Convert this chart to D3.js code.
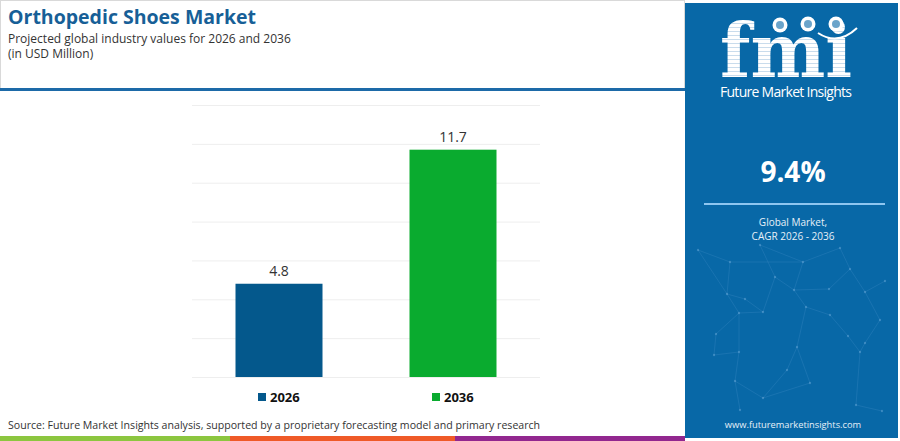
<!DOCTYPE html>
<html lang="en">
<head>
<meta charset="UTF-8">
<title>Orthopedic Shoes Market</title>
<script src="https://d3js.org/d3.v7.min.js"></script>
<style>
  body { margin: 0; background: #ffffff; }
  svg { display: block; font-family: "Open Sans", "Noto Sans", sans-serif; }
</style>
</head>
<body>
<svg></svg>
<script>
// chart data
const years = ["2026", "2036"];
const values = [4.8, 11.7];
const barColors = ["#04588c", "#0aab2f"];
const tickValues = [0, 2, 4, 6, 8, 10, 12, 14];
const cagr = "9.4%";

const width = 900, height = 441;
const svg = d3.select("svg").attr("width", width).attr("height", height);

svg.append("rect").attr("width", width).attr("height", height).attr("fill", "#fff");

// header frame
svg.append("rect").attr("x", 0.5).attr("y", 0.5).attr("width", 684).attr("height", 90)
    .attr("fill", "none").attr("stroke", "#d9d9d9");
svg.append("rect").attr("x", 0).attr("y", 88).attr("width", 685).attr("height", 3).attr("fill", "#1d6aa8");

svg.append("text").attr("x", 8).attr("y", 23.5)
    .attr("font-size", 19.5).attr("font-weight", 700).attr("fill", "#175f97")
    .text("Orthopedic Shoes Market");
svg.append("text").attr("x", 8).attr("y", 42.5)
    .attr("font-size", 12).attr("fill", "#333")
    .text("Projected global industry values for 2026 and 2036");
svg.append("text").attr("x", 8).attr("y", 58)
    .attr("font-size", 12).attr("fill", "#333")
    .text("(in USD Million)");

// scales
const x = d3.scaleBand().domain(years).range([192, 540]).paddingInner(0.5).paddingOuter(0.25);
const y = d3.scaleLinear().domain([0, 14]).range([377, 105]);

// gridlines
svg.append("g")
    .attr("transform", "translate(192,0)")
    .call(d3.axisLeft(y).tickValues(tickValues).tickSize(-348).tickFormat(""))
    .call(g => g.select(".domain").remove())
    .call(g => g.selectAll("line").attr("stroke", "#eeeeee"));

// bars
svg.append("g").selectAll("rect")
    .data(years)
    .join("rect")
    .attr("x", d => x(d))
    .attr("y", (d, i) => y(values[i]))
    .attr("width", x.bandwidth())
    .attr("height", (d, i) => y(0) - y(values[i]))
    .attr("fill", (d, i) => barColors[i]);

svg.append("g").selectAll("text")
    .data(years)
    .join("text")
    .attr("x", d => x(d) + x.bandwidth() / 2)
    .attr("y", (d, i) => y(values[i]) - 8)
    .attr("text-anchor", "middle")
    .attr("font-size", 14)
    .attr("fill", "#333")
    .text((d, i) => values[i]);

// legend under bars
const legend = svg.append("g").selectAll("g")
    .data(years)
    .join("g")
    .attr("transform", d => `translate(${x(d) + x.bandwidth() / 2 - 21},397)`);
legend.append("rect").attr("x", 0).attr("y", -4).attr("width", 8).attr("height", 8)
    .attr("fill", (d, i) => barColors[i]);
legend.append("text").attr("x", 12).attr("y", 5)
    .attr("font-size", 13).attr("font-weight", 700).attr("fill", "#111")
    .text(d => d);

// source + colour stripe
svg.append("text").attr("x", 8).attr("y", 429)
    .attr("font-size", 10.6).attr("fill", "#333")
    .text("Source: Future Market Insights analysis, supported by a proprietary forecasting model and primary research");
const stripe = [["#8cc63f", 0, 230], ["#ef5a28", 230, 455], ["#92278f", 455, 685]];
svg.append("g").selectAll("rect").data(stripe).join("rect")
    .attr("x", d => d[1]).attr("y", 436).attr("width", d => d[2] - d[1]).attr("height", 5)
    .attr("fill", d => d[0]);

// right panel
const panel = svg.append("g");
panel.append("rect").attr("x", 685).attr("y", 3).attr("width", 213).attr("height", 435).attr("fill", "#0868a7");

// faint network decoration
const nodes = [[698,250],[727,294],[730,262],[716,334],[714,355],[739,313],[763,312],[745,299],[775,277],[794,290],[806,307],[830,315],[848,336],[860,352],[829,289],[850,269],[865,292],[885,281],[880,320],[865,343],[739,352],[763,398],[735,381],[797,347],[810,383],[803,262],[882,411],[856,405],[740,410],[787,370],[760,245],[840,248]];
const links = [[0,1],[1,2],[1,5],[5,6],[6,7],[7,1],[6,8],[8,9],[9,10],[10,11],[11,12],[12,13],[9,14],[14,15],[15,16],[16,17],[16,18],[18,19],[19,13],[3,4],[4,20],[20,5],[20,22],[22,21],[21,24],[24,23],[23,10],[2,25],[25,9],[26,27],[27,13],[22,28],[23,29],[29,21],[3,5],[0,2],[30,8],[30,25],[31,15],[31,25]];
panel.append("g").selectAll("line").data(links).join("line")
    .attr("x1", d => nodes[d[0]][0]).attr("y1", d => nodes[d[0]][1])
    .attr("x2", d => nodes[d[1]][0]).attr("y2", d => nodes[d[1]][1])
    .attr("stroke", "#5fa2d6").attr("stroke-opacity", 0.25).attr("stroke-width", 0.8);
panel.append("g").selectAll("circle").data(nodes).join("circle")
    .attr("cx", d => d[0]).attr("cy", d => d[1]).attr("r", 1.2)
    .attr("fill", "#8cc0e8").attr("fill-opacity", 0.35);

// logo: striped letters drawn through a mask
const defs = svg.append("defs");
const pat = defs.append("pattern").attr("id", "stripes").attr("patternUnits", "userSpaceOnUse")
    .attr("width", 10).attr("height", 4);
pat.append("rect").attr("width", 10).attr("height", 3).attr("fill", "#fff");
pat.append("rect").attr("y", 3).attr("width", 10).attr("height", 1).attr("fill", "#c9dcec");
const mask = defs.append("mask").attr("id", "logoMask");
mask.append("text").attr("x", 720).attr("y", 77)
    .attr("font-family", "DejaVu Serif").attr("font-weight", 700).attr("font-size", 74)
    .attr("textLength", 132).attr("lengthAdjust", "spacingAndGlyphs")
    .attr("fill", "#fff").text("fmi");
panel.append("rect").attr("x", 715).attr("y", 10).attr("width", 145).attr("height", 70)
    .attr("fill", "url(#stripes)").attr("mask", "url(#logoMask)");
[[780, 25], [808, 24], [836, 24]].forEach(c => {
  panel.append("circle").attr("cx", c[0]).attr("cy", c[1]).attr("r", 7.5).attr("fill", "#fff");
  panel.append("circle").attr("cx", c[0]).attr("cy", c[1]).attr("r", 4).attr("fill", "#0868a7").attr("fill-opacity", 0.6);
});
panel.append("path").attr("d", "M818,33 Q838,46 857,28")
    .attr("fill", "none").attr("stroke", "#fff").attr("stroke-width", 2);
panel.append("text").attr("x", 786).attr("y", 97).attr("text-anchor", "middle")
    .attr("font-size", 14).attr("fill", "#fff").attr("textLength", 132)
    .text("Future Market Insights");

panel.append("text").attr("x", 793).attr("y", 182).attr("text-anchor", "middle")
    .attr("font-size", 28).attr("font-weight", 700).attr("fill", "#fff")
    .text(cagr);
panel.append("rect").attr("x", 704).attr("y", 203).attr("width", 181).attr("height", 2).attr("fill", "#8ec6f0");
panel.append("text").attr("x", 793).attr("y", 225.5).attr("text-anchor", "middle")
    .attr("font-size", 10).attr("fill", "#e6f0f8").text("Global Market,");
panel.append("text").attr("x", 793).attr("y", 239.5).attr("text-anchor", "middle")
    .attr("font-size", 10).attr("fill", "#e6f0f8").text("CAGR 2026 - 2036");
panel.append("text").attr("x", 793).attr("y", 428).attr("text-anchor", "middle")
    .attr("font-size", 9.3).attr("fill", "#e6f0f8").text("www.futuremarketinsights.com");
</script>
</body>
</html>
